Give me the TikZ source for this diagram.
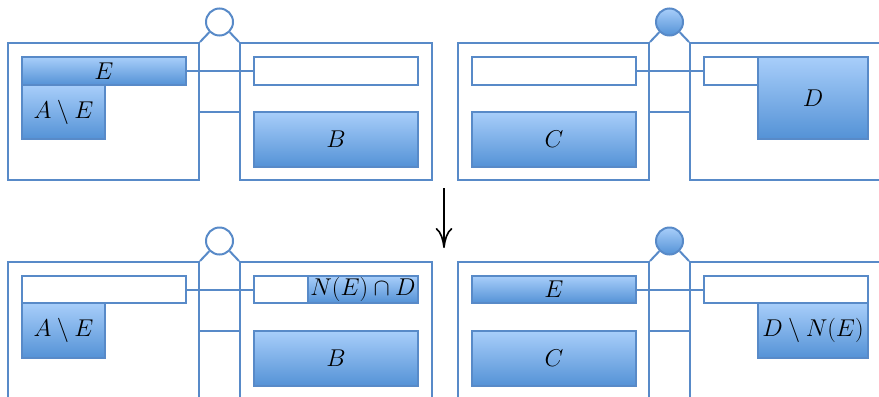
\documentclass[tikz,border=0pt]{standalone}
\usetikzlibrary{shadows,arrows.meta}
\definecolor{edge}{RGB}{88,138,200}
\definecolor{ftop}{RGB}{168,206,250}
\definecolor{fbot}{RGB}{84,146,214}
\newcommand\rbox[7]{%
\node[#1, minimum width={(#5-#3)*0.03cm}, minimum height={(#6-#4)*0.03cm}] (#2) at ({(#3+#5)/2},{(#4+#6)/2}) {#7};}
\newcommand\panelframe[4]{%
\begin{scope}[shift={(#2,#3)}]
\rbox{frame}{#1L}{8}{43}{199}{180}{}
\rbox{frame}{#1R}{240}{43}{432}{180}{}
\node[#4] (#1c) at (219.5,22) {};
\draw[conn] (#1c.south west) -- (#1L.north east);
\draw[conn] (#1c.south east) -- (#1R.north west);
\draw[conn, halfdown] (#1L.east) -- (#1R.west);
\end{scope}}
\begin{document}
\begin{tikzpicture}[x=0.03cm,y=-0.03cm,
  frame/.style={draw=edge, line width=1.7pt, inner sep=0pt},
  conn/.style={draw=edge, line width=1.7pt},
  halfdown/.style={transform canvas={yshift=-0.015cm}},
  slot/.style={draw=edge, line width=1.4pt, fill=white, inner sep=0pt},
  fillbox/.style={draw=edge, line width=1.3pt, top color=ftop, bottom color=fbot, inner sep=0pt,
     drop shadow={opacity=0.25, shadow xshift=0.6pt, shadow yshift=-1.2pt},
     font=\fontsize{20.5}{22}\selectfont},
  hollow/.style={circle, draw=edge, line width=1.7pt, fill=white, minimum size=0.81cm, inner sep=0pt},
  filled/.style={circle, draw=edge, line width=1.7pt, top color=ftop, bottom color=fbot, minimum size=0.81cm, inner sep=0pt},
  arr/.style={line width=1.4pt, -{Computer Modern Rightarrow[length=6mm, width=5mm]}}]
\useasboundingbox (0,0) rectangle (879,396);
\clip (0,0) rectangle (879,396);

% top-left panel
\panelframe{a}{0}{0}{hollow}
\rbox{fillbox}{aAE}{22}{85}{105}{139}{$A\setminus E$}
\rbox{fillbox}{aE}{22}{57}{186}{85}{$E$}
\rbox{slot}{aS}{254}{57}{418}{85}{}
\rbox{fillbox}{aB}{254}{112}{418}{167}{$B$}
\draw[conn] (aE) -- (aS);

% top-right panel
\panelframe{b}{450}{0}{filled}
\rbox{slot}{bS1}{472}{57}{636}{85}{}
\rbox{fillbox}{bC}{472}{112}{636}{167}{$C$}
\rbox{slot}{bS2}{704}{57}{868}{85}{}
\rbox{fillbox}{bD}{758}{57}{868}{139}{$D$}
\draw[conn] (bS1) -- (bS2);

% bottom-left panel
\panelframe{c}{0}{219}{hollow}
\rbox{fillbox}{cAE}{22}{303}{105}{358}{$A\setminus E$}
\rbox{slot}{cS1}{22}{276}{186}{303}{}
\rbox{slot}{cS2}{254}{276}{418}{303}{}
\rbox{fillbox}{cND}{308}{276}{418}{303}{$N(E)\cap D$}
\rbox{fillbox}{cB}{254}{331}{418}{386}{$B$}
\draw[conn, halfdown] (cS1) -- (cS2);

% bottom-right panel
\panelframe{d}{450}{219}{filled}
\rbox{fillbox}{dE}{472}{276}{636}{303}{$E$}
\rbox{fillbox}{dC}{472}{331}{636}{386}{$C$}
\rbox{fillbox}{dDN}{758}{303}{868}{358}{$D\setminus N(E)$}
\rbox{slot}{dS}{704}{276}{868}{303}{}
\draw[conn, halfdown] (dE) -- (dS);

% arrow
\coordinate (a1) at (444,188);
\coordinate (a2) at (444,248);
\draw[arr] (a1) -- (a2);
\end{tikzpicture}
\end{document}
